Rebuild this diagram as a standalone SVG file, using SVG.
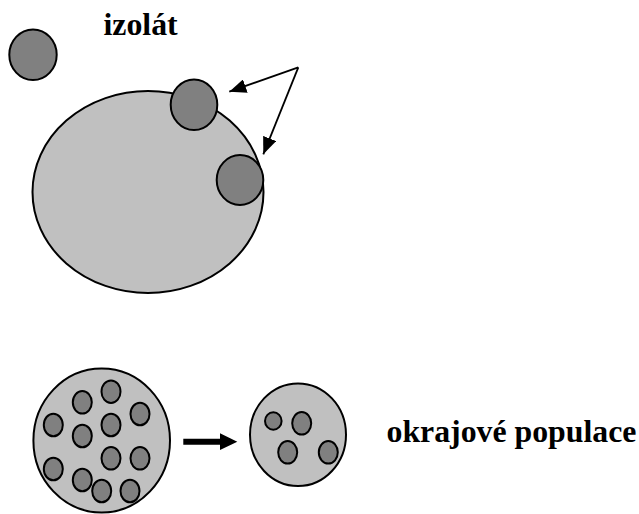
<svg xmlns="http://www.w3.org/2000/svg" width="639" height="514" viewBox="0 0 639 514">
<style>
.big{fill:#c0c0c0;stroke:#000;stroke-width:2}
.sm{fill:#808080;stroke:#000;stroke-width:2}
.lbl{font-family:"Liberation Serif","Times New Roman",serif;font-weight:bold;font-size:31.8px;fill:#000}
.ln{stroke:#000;stroke-width:1.8;fill:none}
</style>
<defs>
<marker id="ah" viewBox="0 0 17 14" markerWidth="17" markerHeight="14" refX="17" refY="7" orient="auto" markerUnits="userSpaceOnUse">
<path d="M0,0 L17,7 L0,14 z" fill="#000"/>
</marker>
</defs>
<g id="mainland">
<ellipse class="big" cx="148" cy="192" rx="115.5" ry="101"/>
</g>
<g id="isolate-far">
<ellipse class="sm" cx="33" cy="54.7" rx="23.7" ry="25.3"/>
</g>
<g id="isolate-top">
<ellipse class="sm" cx="194" cy="104.7" rx="23.3" ry="25.3"/>
</g>
<g id="isolate-right">
<ellipse class="sm" cx="240" cy="180" rx="23.3" ry="25"/>
</g>
<g id="label-izolat">
<text class="lbl" x="103.5" y="34.5">izolát</text>
</g>
<g id="source-population">
<ellipse class="big" cx="101.7" cy="440.5" rx="68.3" ry="72"/>
<ellipse class="sm" cx="82.3" cy="402.3" rx="9.5" ry="11.3"/>
<ellipse class="sm" cx="111" cy="391.7" rx="9.5" ry="11.3"/>
<ellipse class="sm" cx="140" cy="414" rx="9.5" ry="11.3"/>
<ellipse class="sm" cx="53.3" cy="425" rx="9.5" ry="11.3"/>
<ellipse class="sm" cx="82.3" cy="436" rx="9.5" ry="11.3"/>
<ellipse class="sm" cx="111" cy="425" rx="9.5" ry="11.3"/>
<ellipse class="sm" cx="111" cy="458.3" rx="9.5" ry="11.3"/>
<ellipse class="sm" cx="140" cy="458.3" rx="9.5" ry="11.3"/>
<ellipse class="sm" cx="53.3" cy="469" rx="9.5" ry="11.3"/>
<ellipse class="sm" cx="82.3" cy="480" rx="9.5" ry="11.3"/>
<ellipse class="sm" cx="101.7" cy="491" rx="9.5" ry="11.3"/>
<ellipse class="sm" cx="130" cy="491" rx="9.5" ry="11.3"/>
</g>
<g id="peripheral-population">
<ellipse class="big" cx="298" cy="434.7" rx="48" ry="51.3"/>
<ellipse class="sm" cx="273.3" cy="421" rx="8.3" ry="8.7"/>
<ellipse class="sm" cx="301.7" cy="423.3" rx="9.5" ry="11.3"/>
<ellipse class="sm" cx="287.7" cy="452.3" rx="9.5" ry="11.3"/>
<ellipse class="sm" cx="328.3" cy="452.3" rx="9.5" ry="11.3"/>
</g>
<g id="label-okrajove">
<text class="lbl" x="386.5" y="441.5">okrajové populace</text>
</g>
<g id="connectors">
<line class="ln" x1="298.3" y1="67.3" x2="229.3" y2="91.7" marker-end="url(#ah)"/>
<line class="ln" x1="298.3" y1="67.3" x2="263.3" y2="154.3" marker-end="url(#ah)"/>
<path d="M183.3,438.7 H220 V433.3 L237.3,441.7 L220,450 V444.7 H183.3 z" fill="#000"/>
</g>
</svg>
